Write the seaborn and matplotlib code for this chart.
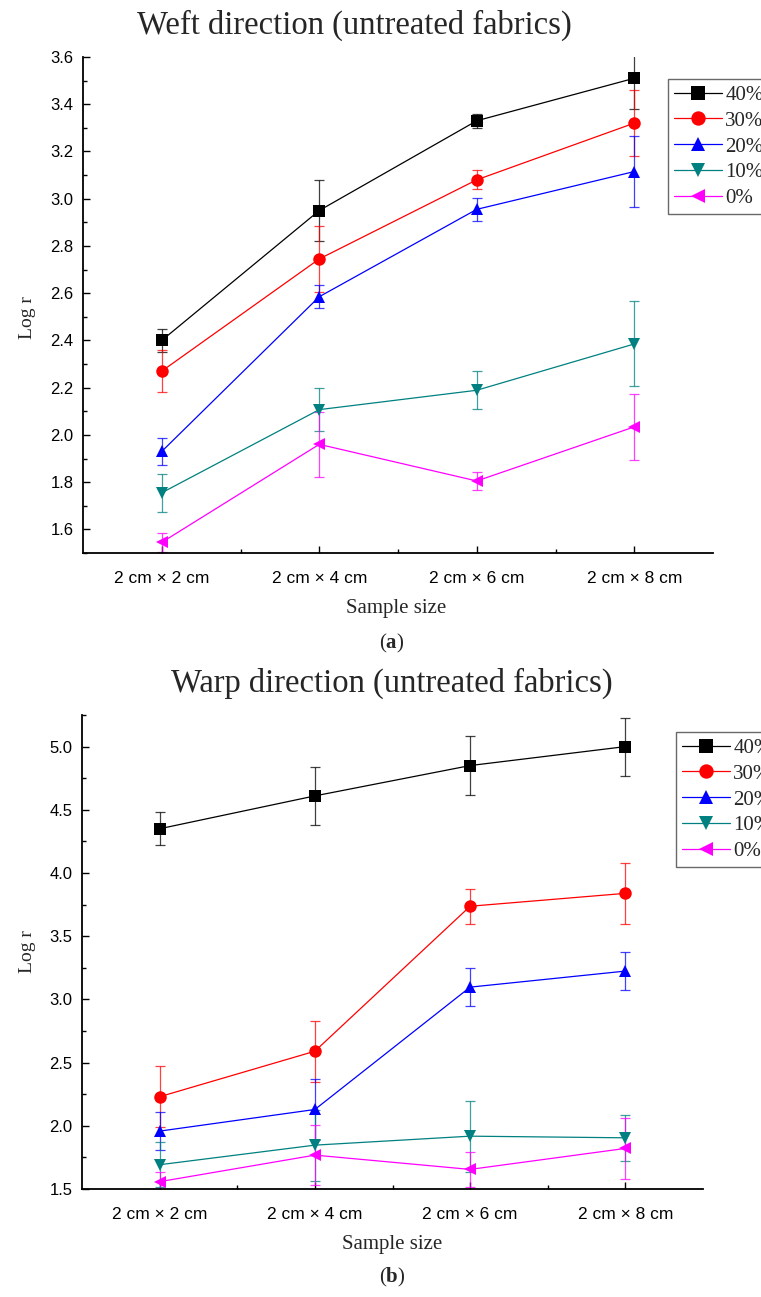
import numpy as np
import pandas as pd
import matplotlib
matplotlib.use("Agg")
import matplotlib.pyplot as plt
import seaborn as sns
from matplotlib.ticker import MultipleLocator, FormatStrFormatter

# ---------------- data ----------------
x_labels = ["2 cm × 2 cm", "2 cm × 4 cm", "2 cm × 6 cm", "2 cm × 8 cm"]
series = ["40%", "30%", "20%", "10%", "0%"]

weft_40 = [2.40, 2.95, 3.33, 3.51]
weft_30 = [2.27, 2.745, 3.08, 3.32]
weft_20 = [1.93, 2.585, 2.955, 3.115]
weft_10 = [1.755, 2.107, 2.189, 2.385]
weft_0 = [1.545, 1.96, 1.805, 2.034]
weft_40_err = [0.05, 0.13, 0.03, 0.13]
weft_30_err = [0.09, 0.14, 0.04, 0.14]
weft_20_err = [0.057, 0.048, 0.048, 0.15]
weft_10_err = [0.08, 0.09, 0.08, 0.18]
weft_0_err = [0.04, 0.137, 0.04, 0.14]

warp_40 = [4.35, 4.61, 4.85, 5.00]
warp_30 = [2.23, 2.59, 3.737, 3.839]
warp_20 = [1.958, 2.129, 3.097, 3.224]
warp_10 = [1.692, 1.847, 1.918, 1.905]
warp_0 = [1.558, 1.768, 1.655, 1.821]
warp_40_err = [0.13, 0.23, 0.23, 0.23]
warp_30_err = [0.24, 0.24, 0.14, 0.24]
warp_20_err = [0.15, 0.24, 0.15, 0.15]
warp_10_err = [0.18, 0.28, 0.28, 0.18]
warp_0_err = [0.08, 0.24, 0.14, 0.24]

weft_vals = [weft_40, weft_30, weft_20, weft_10, weft_0]
weft_errs = [weft_40_err, weft_30_err, weft_20_err, weft_10_err, weft_0_err]
warp_vals = [warp_40, warp_30, warp_20, warp_10, warp_0]
warp_errs = [warp_40_err, warp_30_err, warp_20_err, warp_10_err, warp_0_err]

colors = ["#000000", "#FF0000", "#0000FF", "#008080", "#FF00FF"]
markers = ["s", "o", "^", "v", "<"]

sns.set_theme(style="ticks")
plt.rcParams["font.family"] = ["Liberation Sans", "DejaVu Sans"]
plt.rcParams["mathtext.fontset"] = "custom"
plt.rcParams["mathtext.rm"] = "Liberation Serif"
plt.rcParams["mathtext.bf"] = "Liberation Serif:bold"
SERIF = ["Liberation Serif", "DejaVu Serif"]

W, H = 761, 1297
fig = plt.figure(figsize=(W / 100, H / 100), dpi=100)


def box(l, t, r, b):
    return [l / W, 1 - b / H, (r - l) / W, (b - t) / H]


def build(ax, vals, errs, ylim, major, minor, leg_anchor):
    xs = list(range(len(x_labels)))
    for name, v, e, c, m in zip(series, vals, errs, colors, markers):
        df = pd.DataFrame({"x": xs, "y": v})
        sns.lineplot(data=df, x="x", y="y", ax=ax, color=c, marker=m,
                     markersize=8.5 if m != "o" else 9, markeredgewidth=0,
                     linewidth=0.9, label=name, zorder=3)
        ax.errorbar(xs, v, yerr=e, fmt="none", ecolor=c, elinewidth=0.9,
                    capsize=3.5, capthick=0.9, alpha=0.75, zorder=2)
    ax.set_xlim(-0.5, 3.5)
    ax.set_ylim(*ylim)
    ax.set_xticks(xs)
    ax.set_xticklabels(x_labels)
    ax.set_xticks([0.5, 1.5, 2.5], minor=True)
    ax.yaxis.set_major_locator(MultipleLocator(major))
    ax.yaxis.set_minor_locator(MultipleLocator(minor))
    ax.yaxis.set_major_formatter(FormatStrFormatter("%.1f"))
    ax.tick_params(which="both", direction="in", width=1.0, colors="black")
    ax.tick_params(which="major", length=5)
    ax.tick_params(which="minor", length=3)
    ax.tick_params(axis="y", which="major", pad=7, labelsize=12)
    ax.tick_params(axis="x", which="major", pad=13, labelsize=12.5)
    for s in ["top", "right"]:
        ax.spines[s].set_visible(False)
    for s in ["left", "bottom"]:
        ax.spines[s].set_linewidth(1.3)
        ax.spines[s].set_color("black")
    ax.set_xlabel("")
    ax.set_ylabel("")
    leg = ax.legend(loc="upper left", bbox_to_anchor=leg_anchor,
                    prop={"family": SERIF, "size": 15}, frameon=True,
                    fancybox=False, handlelength=2.3, handletextpad=0.15,
                    borderpad=0.3, labelspacing=0.3, borderaxespad=0,
                    markerscale=1.15)
    leg.get_frame().set_edgecolor("#444444")
    leg.get_frame().set_linewidth(1.0)
    return ax


ax1 = fig.add_axes(box(83, 57, 713, 553))
build(ax1, weft_vals, weft_errs, (1.5, 3.6), 0.2, 0.1, (0.9286, 0.9556))
ax2 = fig.add_axes(box(82, 715, 703, 1189))
build(ax2, warp_vals, warp_errs, (1.5, 5.25), 0.5, 0.25, (0.9565, 0.964))

fig.text(354 / W, 1 - 25 / H, "Weft direction (untreated fabrics)",
         family=SERIF, size=23.5, ha="center", va="center")
fig.text(392 / W, 1 - 683 / H, "Warp direction (untreated fabrics)",
         family=SERIF, size=23.5, ha="center", va="center")
fig.text(396 / W, 1 - 608 / H, "Sample size", family=SERIF, size=15,
         ha="center", va="center")
fig.text(392 / W, 1 - 1244 / H, "Sample size", family=SERIF, size=15,
         ha="center", va="center")
fig.text(392 / W, 1 - 643 / H, r"($\mathbf{a}$)", family=SERIF, size=15,
         ha="center", va="center")
fig.text(392 / W, 1 - 1277 / H, r"($\mathbf{b}$)", family=SERIF, size=15,
         ha="center", va="center")
fig.text(27 / W, 1 - 318 / H, "Log r", family=SERIF, size=14,
         ha="center", va="center", rotation=90)
fig.text(27 / W, 1 - 952 / H, "Log r", family=SERIF, size=14,
         ha="center", va="center", rotation=90)

fig.savefig("out.png", dpi=100)
